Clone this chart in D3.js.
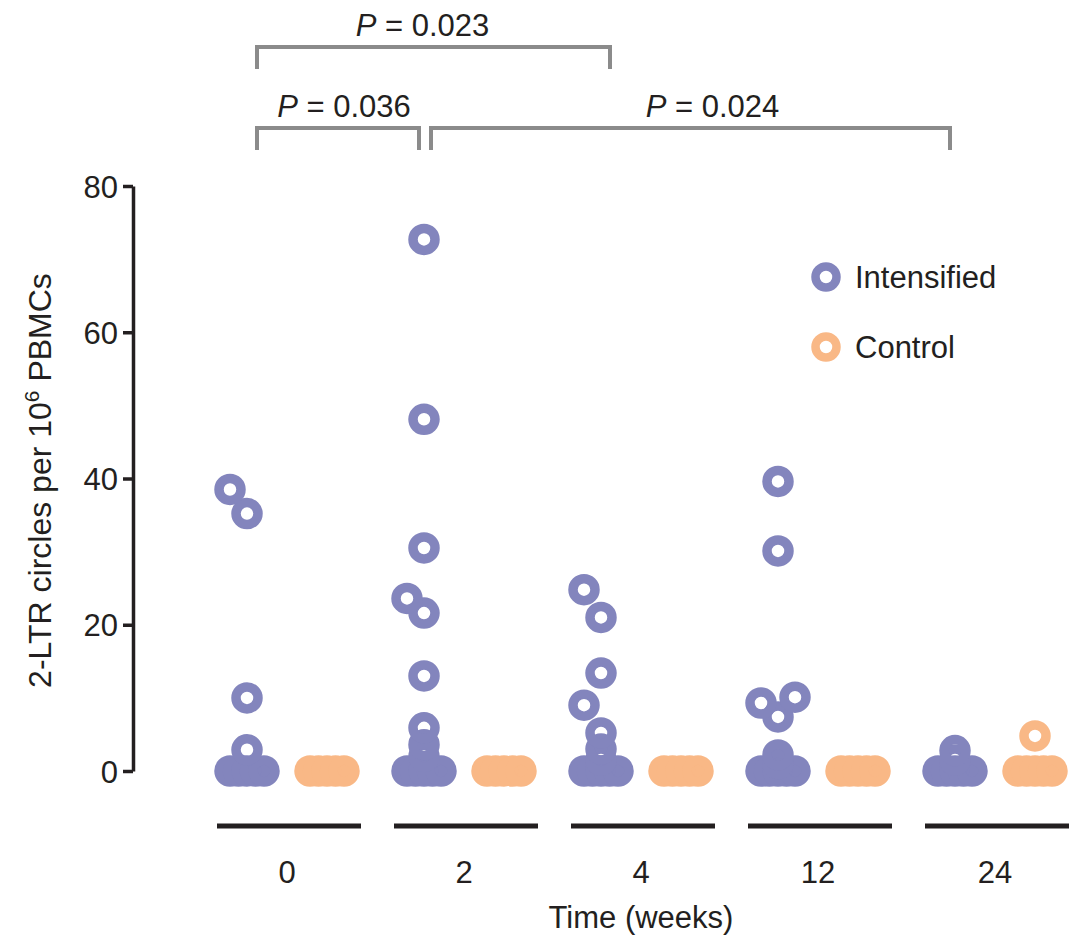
<!DOCTYPE html>
<html>
<head>
<meta charset="utf-8">
<script src="https://cdn.jsdelivr.net/npm/d3@7"></script>
<style>
  body { margin: 0; background: #fff; }
  svg text { font-family: "Liberation Sans", Arial, sans-serif; fill: #231f20; }
</style>
</head>
<body>
<svg id="chart" width="1076" height="936"></svg>
<script>
// weeks on the x axis
var weeks = ["0", "2", "4", "12", "24"];
var groups = ["Intensified", "Control"];
var yTicks = [0, 20, 40, 60, 80];

// 2-LTR circles per 10^6 PBMCs, one list per week
var intensified = [
    [38.5, 35.2, 10.0, 2.9, 0, 0, 0, 0, 0],
    [72.7, 48.1, 30.5, 23.6, 21.6, 13.0, 5.9, 3.6, 2.0, 0, 0, 0, 0, 0],
    [24.8, 21.0, 13.4, 9.0, 5.2, 3.0, 1.5, 0, 0, 0, 0, 0],
    [39.6, 30.1, 10.1, 9.3, 7.4, 2.2, 1.0, 0, 0, 0, 0, 0],
    [2.8, 1.5, 0, 0, 0, 0, 0]
];
var control = [
    [0, 0, 0, 0, 0],
    [0, 0, 0, 0, 0],
    [0, 0, 0, 0, 0],
    [0, 0, 0, 0, 0],
    [4.8, 0, 0, 0, 0, 0]
];

// comparisons between intensified weeks
var comparisons = [
    {from: "0", to: "4", label: "0.023", row: 0},
    {from: "0", to: "2", label: "0.036", row: 1},
    {from: "2", to: "24", label: "0.024", row: 1}
];
var labelNudge = [-11, 6, 22];

var colors = {Intensified: "#8385bd", Control: "#f9b886"};

var svg = d3.select("#chart");

var x = d3.scalePoint().domain(weeks).range([287, 995]);
var xSub = d3.scalePoint().domain(groups).range([-40, 40]);
var y = d3.scaleLinear().domain([0, 80]).range([771, 186]);

var R = 11, SW = 9.5, STEP = 17, ZSTEP = 8.5, MIN_DY = 29, SMALL = 5;

// simple dodge: zeros in one row, small values stacked, others shifted sideways on overlap
function layout(values, cx) {
    var pts = [];
    var zeros = values.filter(function(v) { return v === 0; });
    zeros.forEach(function(v, i) {
        pts.push({v: v, x: cx + (i - (zeros.length - 1) / 2) * ZSTEP, y: y(v)});
    });
    var placed = [];
    var rest = values.filter(function(v) { return v > 0; }).sort(d3.ascending);
    rest.forEach(function(v) {
        var py = y(v);
        if (v < SMALL) {
            pts.push({v: v, x: cx, y: py});
            return;
        }
        var slots = [0, -1, 1, -2, 2, -3, 3];
        for (var k = 0; k < slots.length; k++) {
            var px = cx + slots[k] * STEP;
            var hit = placed.some(function(p) {
                return Math.abs(p.x - px) < 1 && Math.abs(p.y - py) < MIN_DY;
            });
            if (!hit) {
                var p = {v: v, x: px, y: py};
                placed.push(p);
                pts.push(p);
                break;
            }
        }
    });
    return pts;
}

// y axis
var yAxis = d3.axisLeft(y).tickValues(yTicks).tickSize(10).tickSizeOuter(0).tickPadding(5);
var gy = svg.append("g").attr("transform", "translate(133,0)").call(yAxis);
gy.select(".domain").attr("stroke", "#231f20").attr("stroke-width", 3.5);
gy.selectAll(".tick line").attr("stroke", "#231f20").attr("stroke-width", 3.5);
gy.selectAll(".tick text").style("font-size", "31px").attr("dy", "0.36em");

svg.append("text")
    .attr("transform", "translate(51," + (y(40) + 2) + ") rotate(-90)")
    .attr("text-anchor", "middle")
    .style("font-size", "32px")
    .call(function(t) {
        t.append("tspan").text("2-LTR circles per 10");
        t.append("tspan").attr("dy", -12).style("font-size", "21px").text("6");
        t.append("tspan").attr("dy", 12).text(" PBMCs");
    });

// x groups
var gx = svg.append("g");
gx.selectAll("line.seg").data(weeks).enter().append("line")
    .attr("class", "seg")
    .attr("x1", function(d) { return x(d) - 70; })
    .attr("x2", function(d) { return x(d) + 74; })
    .attr("y1", 826).attr("y2", 826)
    .attr("stroke", "#231f20").attr("stroke-width", 5);
gx.selectAll("text.wk").data(weeks).enter().append("text")
    .attr("class", "wk")
    .attr("x", function(d) { return x(d); })
    .attr("y", 883)
    .attr("text-anchor", "middle")
    .style("font-size", "31px")
    .text(function(d) { return d; });
svg.append("text")
    .attr("x", 641).attr("y", 928)
    .attr("text-anchor", "middle")
    .style("font-size", "31px")
    .text("Time (weeks)");

// points
var series = [
    {name: "Intensified", data: intensified},
    {name: "Control", data: control}
];
series.forEach(function(s) {
    var pts = [];
    s.data.forEach(function(vals, i) {
        pts = pts.concat(layout(vals, x(weeks[i]) + xSub(s.name)));
    });
    svg.append("g").selectAll("circle").data(pts).enter().append("circle")
        .attr("cx", function(d) { return d.x; })
        .attr("cy", function(d) { return d.y; })
        .attr("r", R)
        .attr("fill", "none")
        .attr("stroke", colors[s.name])
        .attr("stroke-width", SW);
});

// significance brackets
var rowY = [47, 128];
var gb = svg.append("g");
comparisons.forEach(function(c, i) {
    var x1 = x(c.from) + xSub("Intensified") + 10;
    var x2 = x(c.to) + xSub("Intensified") + (c.row === 0 ? 9 : -5);
    if (c.from === "2") x1 = x(c.from) + xSub("Intensified") + 7;
    var yb = rowY[c.row];
    gb.append("path")
        .attr("d", "M" + x1 + "," + (yb + 22) + "V" + yb + "H" + x2 + "V" + (yb + 22))
        .attr("fill", "none")
        .attr("stroke", "#8b8b8b")
        .attr("stroke-width", 4);
    var t = gb.append("text")
        .attr("x", (x1 + x2) / 2 + labelNudge[i])
        .attr("y", yb - 11)
        .attr("text-anchor", "middle")
        .style("font-size", "31px");
    t.append("tspan").style("font-style", "italic").text("P");
    t.append("tspan").text(" = " + c.label);
});

// legend
var lg = svg.append("g");
groups.forEach(function(g, i) {
    var ly = 277 + i * 70;
    lg.append("circle")
        .attr("cx", 826).attr("cy", ly)
        .attr("r", 10.5)
        .attr("fill", "none")
        .attr("stroke", colors[g])
        .attr("stroke-width", 8.5);
    lg.append("text")
        .attr("x", 855).attr("y", ly + 11)
        .style("font-size", "31px")
        .text(g);
});
</script>
</body>
</html>
